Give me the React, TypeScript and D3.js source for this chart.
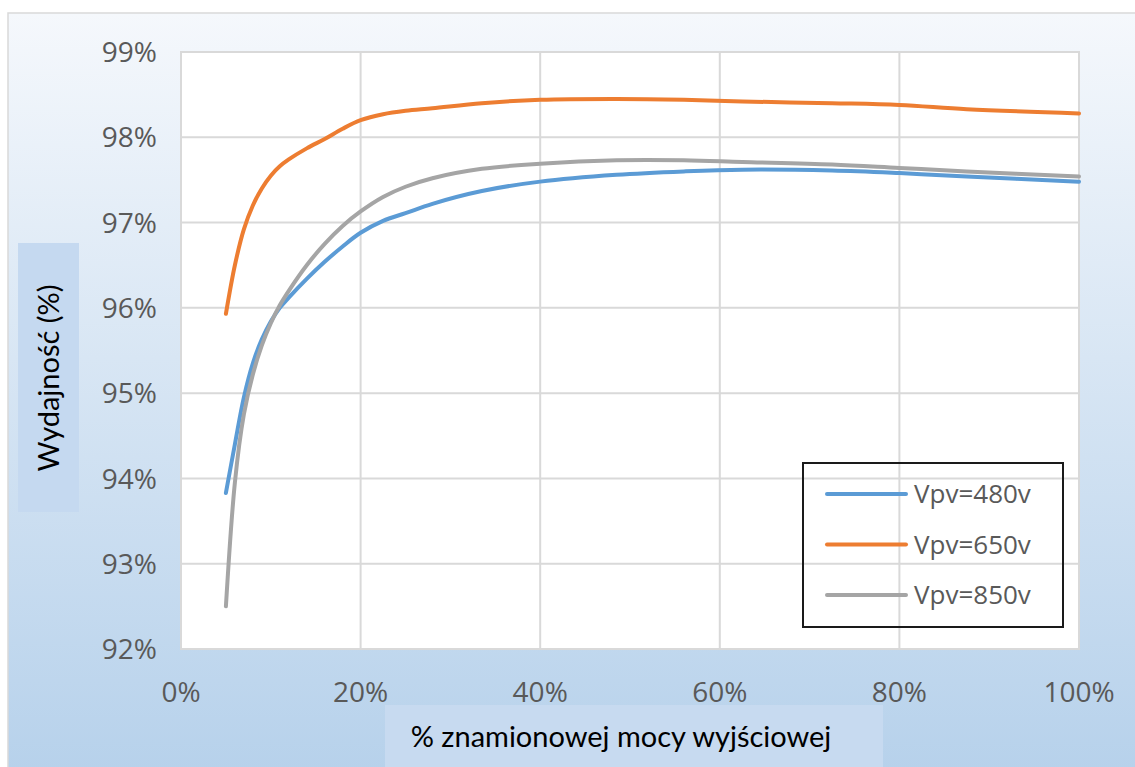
import React from "react";
import * as d3 from "d3";

const xPercent = [5, 6, 7, 8, 9, 10, 11, 12, 14, 16, 18, 20, 22.5, 25, 28, 33.5, 40, 48.5, 56, 62.5, 72.5, 80, 87.5, 100];
const vpv480 = [93.83, 94.4, 94.95, 95.35, 95.63, 95.84, 96.0, 96.12, 96.34, 96.54, 96.72, 96.88, 97.02, 97.11, 97.22, 97.37, 97.48, 97.56, 97.6, 97.62, 97.61, 97.58, 97.54, 97.48];
const vpv650 = [95.93, 96.5, 96.92, 97.2, 97.4, 97.55, 97.66, 97.74, 97.87, 97.98, 98.1, 98.2, 98.27, 98.31, 98.34, 98.4, 98.44, 98.45, 98.44, 98.42, 98.4, 98.38, 98.33, 98.28];
const vpv850 = [92.5, 93.95, 94.75, 95.22, 95.56, 95.82, 96.03, 96.2, 96.5, 96.75, 96.96, 97.13, 97.3, 97.42, 97.52, 97.63, 97.69, 97.73, 97.73, 97.71, 97.68, 97.64, 97.6, 97.54];

const seriesNames = ["Vpv=480v", "Vpv=650v", "Vpv=850v"];
const seriesColors = ["#5b9bd5", "#ed7d31", "#a5a5a5"];
const xTicks = [0, 20, 40, 60, 80, 100];
const yTicks = [92, 93, 94, 95, 96, 97, 98, 99];

const yTitle = "Wydajność (%)";
const xTitle = "% znamionowej mocy wyjściowej";

export default function App() {
  const W = 1135;
  const H = 767;
  const plot = { left: 181, top: 52, right: 1079, bottom: 649 };
  const x = d3.scaleLinear().domain([0, 100]).range([plot.left, plot.right]);
  const y = d3.scaleLinear().domain([92, 99]).range([plot.bottom, plot.top]);

  const allSeries = [vpv480, vpv650, vpv850];
  const line = d3
    .line<number>()
    .x((_, i) => x(xPercent[i]))
    .y((d) => y(d))
    .curve(d3.curveCatmullRom.alpha(0.5));

  const legend = { x: 803, y: 463, w: 260, h: 164 };

  return (
    <svg
      width={W}
      height={H}
      style={{ position: "absolute", left: 0, top: 0, display: "block" }}
    >
      <defs>
        <linearGradient id="bg" x1="0" y1="0" x2="0" y2="1">
          <stop offset="0%" stopColor="#f5f8fc" />
          <stop offset="45%" stopColor="#d8e6f4" />
          <stop offset="100%" stopColor="#b6d1eb" />
        </linearGradient>
      </defs>
      <rect x={0} y={0} width={W} height={H} fill="#ffffff" />
      <rect x={8} y={13} width={W} height={H} fill="url(#bg)" stroke="#d9d9d9" strokeWidth={1.5} />

      {/* plot area */}
      <rect
        x={plot.left}
        y={plot.top}
        width={plot.right - plot.left}
        height={plot.bottom - plot.top}
        fill="#ffffff"
        stroke="#d9d9d9"
        strokeWidth={2}
      />
      {yTicks.map((t) => (
        <line key={"gy" + t} x1={plot.left} x2={plot.right} y1={y(t)} y2={y(t)} stroke="#d9d9d9" strokeWidth={2} />
      ))}
      {xTicks.map((t) => (
        <line key={"gx" + t} x1={x(t)} x2={x(t)} y1={plot.top} y2={plot.bottom} stroke="#d9d9d9" strokeWidth={2} />
      ))}

      {/* y tick labels */}
      {yTicks.map((t) => (
        <text
          key={"ty" + t}
          x={157}
          y={y(t)}
          dy="0.36em"
          textAnchor="end"
          fontFamily="'Open Sans', sans-serif"
          fontSize={28}
          fill="#595959"
        >
          {t}%
        </text>
      ))}
      {/* x tick labels */}
      {xTicks.map((t) => (
        <text
          key={"tx" + t}
          x={x(t)}
          y={702}
          textAnchor="middle"
          fontFamily="'Open Sans', sans-serif"
          fontSize={28}
          fill="#595959"
        >
          {t}%
        </text>
      ))}

      {/* series */}
      {allSeries.map((s, i) => (
        <path
          key={"s" + i}
          d={line(s) || ""}
          fill="none"
          stroke={seriesColors[i]}
          strokeWidth={4}
          strokeLinecap="round"
          strokeLinejoin="round"
        />
      ))}

      {/* legend */}
      <rect x={legend.x} y={legend.y} width={legend.w} height={legend.h} fill="none" stroke="#1a1a1a" strokeWidth={2} />
      {seriesNames.map((n, i) => {
        const ly = 494 + i * 50.5;
        return (
          <g key={"l" + i}>
            <line x1={827} x2={906} y1={ly} y2={ly} stroke={seriesColors[i]} strokeWidth={4} strokeLinecap="round" />
            <text
              x={914}
              y={ly}
              dy="0.35em"
              fontFamily="'Open Sans', sans-serif"
              fontSize={26}
              fill="#595959"
            >
              {n}
            </text>
          </g>
        );
      })}

      {/* y title */}
      <rect x={18} y={243} width={61} height={269} fill="#c5d9f0" />
      <text
        transform={`translate(59, 378) rotate(-90)`}
        textAnchor="middle"
        fontFamily="Lato, sans-serif"
        fontSize={29}
        fill="#000000"
      >
        {yTitle}
      </text>

      {/* x title */}
      <rect x={385} y={705} width={498} height={62} fill="#c7daf0" />
      <text
        x={621}
        y={747}
        textAnchor="middle"
        fontFamily="Lato, sans-serif"
        fontSize={29}
        fill="#000000"
      >
        {xTitle}
      </text>
    </svg>
  );
}
